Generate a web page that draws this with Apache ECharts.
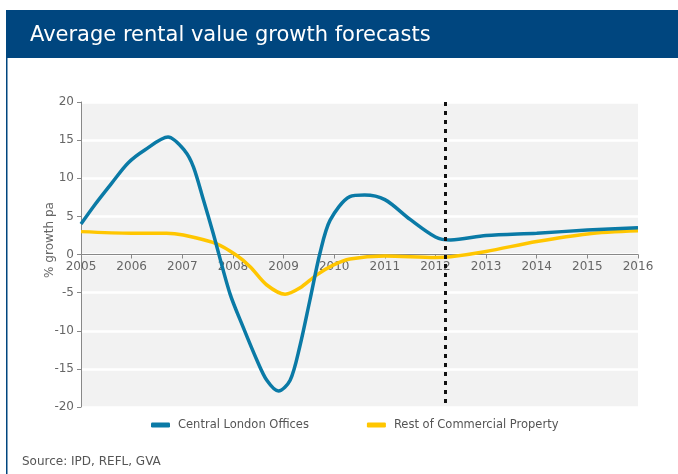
<!DOCTYPE html>
<html>
<head>
<meta charset="utf-8">
<script src="https://cdn.jsdelivr.net/npm/echarts@6/dist/echarts.min.js"></script>
<style>
  html, body { margin: 0; padding: 0; background: #fff; }
  #main { width: 678px; height: 474px; }
</style>
</head>
<body>
<div id="main"></div>
<script>
// 数据
const seriesNames = ['Central London Offices', 'Rest of Commercial Property']
const londonYears = [2005, 2005.27, 2005.6, 2005.93, 2006.26, 2006.72, 2007.05, 2007.22, 2007.42, 2007.61, 2007.94, 2008.2, 2008.47, 2008.67, 2008.9, 2009.13, 2009.32, 2009.52, 2009.72, 2009.92, 2010.31, 2010.6, 2011, 2011.5, 2012, 2012.3, 2013, 2014, 2015, 2016]
const londonValues = [4.0, 6.5, 9.3, 12.0, 13.7, 15.4, 13.6, 11.5, 7.1, 2.8, -5.1, -9.5, -13.8, -16.5, -17.9, -16.5, -12.1, -6.0, 0.2, 4.5, 7.6, 7.8, 7.2, 4.6, 2.3, 1.9, 2.5, 2.8, 3.2, 3.5]
const restYears = [2005, 2006, 2006.69, 2007.02, 2007.68, 2008.07, 2008.34, 2008.67, 2009.03, 2009.32, 2009.65, 2009.98, 2010.31, 2011, 2012, 2012.3, 2013, 2014, 2015, 2016]
const restValues = [3.0, 2.8, 2.8, 2.55, 1.4, -0.1, -1.6, -4.0, -5.2, -4.4, -2.7, -1.4, -0.6, -0.2, -0.4, -0.3, 0.4, 1.7, 2.7, 3.1]
const forecastStart = 2012.2

const pairs = (xs, ys) => xs.map((x, i) => [x, ys[i]])

const chart = echarts.init(document.getElementById('main'))
chart.setOption({
  animation: false,
  textStyle: { fontFamily: 'DejaVu Sans' },
  graphic: [
    // 标题栏
    { type: 'rect', left: 6, top: 10, shape: { width: 672, height: 48 }, style: { fill: '#00467f' } },
    { type: 'rect', left: 6, top: 58, shape: { width: 1.5, height: 416 }, style: { fill: '#00467f' } },
    { type: 'text', left: 30, top: 25, style: { text: 'Average rental value growth forecasts', fill: '#fff', font: '21px DejaVu Sans' } },
    { type: 'text', left: 22, top: 456, style: { text: 'Source: IPD, REFL, GVA', fill: '#555', font: '12px DejaVu Sans' } },
    // y 轴名称
    {
      type: 'text', x: 50, y: 240, rotation: Math.PI / 2,
      style: { text: '% growth pa', fill: '#666', font: '12px DejaVu Sans', align: 'center', verticalAlign: 'middle' }
    }
  ],
  legend: {
    left: 146,
    top: 414,
    itemGap: 58,
    itemWidth: 19,
    itemHeight: 5,
    icon: 'roundRect',
    textStyle: { color: '#555', fontSize: 11.5, padding: [0, 0, 0, 3] },
    data: seriesNames
  },
  grid: {
    left: 81,
    right: 40,
    top: 102,
    bottom: 67,
    show: true,
    backgroundColor: '#f2f2f2',
    borderWidth: 0
  },
  xAxis: {
    type: 'value',
    min: 2005,
    max: 2016,
    interval: 1,
    offset: -152.5, // 放到 0 线上
    axisLine: { onZero: false, lineStyle: { color: '#888' } },
    axisTick: { show: true, length: 4, lineStyle: { color: '#888' } },
    axisLabel: { color: '#666', fontSize: 12, margin: 6, formatter: v => String(v) },
    splitLine: { show: false }
  },
  yAxis: {
    type: 'value',
    min: -20,
    max: 20,
    interval: 5,
    axisLine: { show: true, lineStyle: { color: '#888' } },
    axisTick: { show: true, length: 4, lineStyle: { color: '#888' } },
    axisLabel: { color: '#666', fontSize: 12, margin: 7 },
    splitLine: { lineStyle: { color: '#fff', width: 2.5 } }
  },
  series: [
    {
      name: seriesNames[0],
      type: 'line',
      smooth: 0.3,
      symbol: 'none',
      color: '#0a7aa6',
      lineStyle: { width: 3.5 },
      data: pairs(londonYears, londonValues),
      z: 3,
      markLine: {
        silent: true,
        symbol: 'none',
        label: { show: false },
        lineStyle: { color: '#111', width: 3, type: [4, 5] },
        data: [[{ coord: [forecastStart, 20] }, { coord: [forecastStart, -19.5] }]]
      }
    },
    {
      name: seriesNames[1],
      type: 'line',
      smooth: 0.3,
      symbol: 'none',
      color: '#ffc600',
      lineStyle: { width: 3.5 },
      data: pairs(restYears, restValues),
      z: 2
    }
  ]
})
</script>
</body>
</html>
